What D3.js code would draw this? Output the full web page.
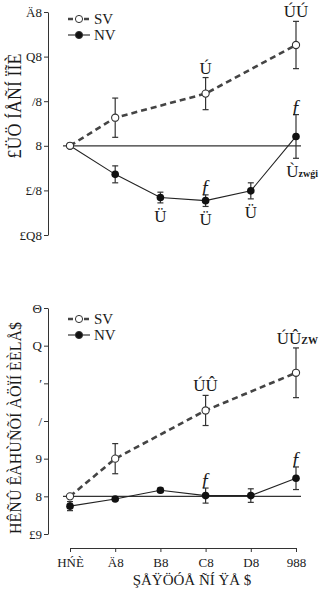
<!DOCTYPE html>
<html>
<head>
<meta charset="utf-8">
<script src="https://cdn.jsdelivr.net/npm/d3@7"></script>
<style>
body{margin:0;background:#fff}
text{font-family:"Liberation Serif",serif;fill:#1a1a1a}
</style>
</head>
<body>
<svg id="chart" width="320" height="590"></svg>
<script>
// doses (x categories)
var doses = [0, 20, 40, 60, 80, 100];
var xTickLabels = ["HŃÈ", "Ä8", "B8", "C8", "D8", "988"];
var xTitle = "ŞÅŸÖÓÅ ÑÍ ŸÅ    $";

// top panel
var topTicks = [30, 20, 10, 0, -10, -20];
var topTickLabels = ["Ä8", "Q8", "/8", "8", "£/8", "£Q8"];
var topTitle = "£ÜÖ    ÍÅÑÍ ÏĨÈ";
var topSvDose = [0, 20, 60, 100];
var topSv = [0, 6.3, 11.7, 22.6];
var topSvErr = [0, 4.4, 3.6, 5.3];
var topSvMarks = ["", "", "Ú", "ÚÚ"];
var topSvSuffix = ["", "", "", ""];
var topNv = [0, -6.4, -11.6, -12.3, -10.1, 2.1];
var topNvErr = [0, 1.9, 1.2, 1.3, 1.8, 4.9];
var topNvAbove = ["", "", "", "ƒ", "", "ƒ"];
var topNvBelow = ["", "", "Ü", "Ü", "Ü", "Ù"];
var topNvBelowSuffix = ["", "", "", "", "", "zwǵi"];

// bottom panel
var botTicks = [25, 20, 15, 10, 5, 0, -5];
var botTickLabels = ["Θ", "Q", "ʹ", "/", "9", "8", "£9"];
var botTitle = "HÊÑÛ ÊÀHÙÑÕÍ ÀÖÏÍ    ÈÈLÅ$";
var botSvDose = [0, 20, 60, 100];
var botSv = [0, 5.0, 11.4, 16.4];
var botSvErr = [0, 2.0, 2.0, 3.3];
var botSvMarks = ["", "", "ÚÛ", "ÚÛ"];
var botSvSuffix = ["", "", "", "ZW"];
var botNv = [-1.3, -0.35, 0.8, 0.1, 0.1, 2.4];
var botNvErr = [0.6, 0.2, 0.3, 1.0, 0.9, 1.5];
var botNvAbove = ["", "", "", "ƒ", "", "ƒ"];

var legendNames = ["SV", "NV"];

var svg = d3.select("#chart");
var x = d3.scalePoint().domain(doses).range([70, 296]);

// a mark centred on its point, or (with a suffix) pushed against the right edge
function markText(sel, size) {
  sel.attr("text-anchor", function (d) { return d.s ? "end" : "middle"; })
    .attr("x", function (d) { return d.s ? 318 : x(d.d); })
    .style("font-size", size);
  sel.append("tspan").text(function (d) { return d.t; });
  sel.filter(function (d) { return d.s; }).append("tspan")
    .style("font-size", "10px").style("font-weight", "bold").text(function (d) { return d.s; });
}

function panel(cfg) {
  var g = svg.append("g");
  var y = d3.scaleLinear().domain(cfg.domain).range(cfg.range);

  // y axis
  var ya = g.append("g").attr("transform", "translate(48,0)")
    .call(d3.axisLeft(y).tickValues(cfg.ticks).tickSize(4).tickSizeOuter(0)
      .tickFormat(function (d, i) { return cfg.tickLabels[i]; }));
  ya.selectAll("text").style("font-family", "Liberation Serif").style("font-size", "13px").attr("x", -6);
  ya.select(".domain").attr("stroke", "#333");
  ya.selectAll(".tick line").attr("stroke", "#333");

  // y title
  g.append("text")
    .attr("transform", "translate(21," + cfg.titleY + ") rotate(-90)")
    .attr("text-anchor", "middle").style("font-size", cfg.titleSize)
    .text(cfg.title);

  // zero reference line
  g.append("line")
    .attr("x1", x(0) - 7).attr("x2", x(100) + 5)
    .attr("y1", y(0)).attr("y2", y(0))
    .attr("stroke", "#333").attr("stroke-width", 1.2);

  var sv = cfg.svDose.map(function (d, i) {
    return {d: d, v: cfg.sv[i], e: cfg.svErr[i], t: cfg.svMarks[i], s: cfg.svSuffix[i]};
  });
  var nv = doses.map(function (d, i) {
    return {d: d, v: cfg.nv[i], e: cfg.nvErr[i], a: cfg.nvAbove[i],
      b: cfg.nvBelow ? cfg.nvBelow[i] : "", bs: cfg.nvBelowSuffix ? cfg.nvBelowSuffix[i] : ""};
  });

  function errBars(data) {
    var eb = g.append("g").selectAll("g").data(data.filter(function (d) { return d.e > 0; })).enter().append("g");
    eb.append("line").attr("x1", function (d) { return x(d.d); }).attr("x2", function (d) { return x(d.d); })
      .attr("y1", function (d) { return y(d.v + d.e); }).attr("y2", function (d) { return y(d.v - d.e); });
    eb.append("line").attr("x1", function (d) { return x(d.d) - 3; }).attr("x2", function (d) { return x(d.d) + 3; })
      .attr("y1", function (d) { return y(d.v + d.e); }).attr("y2", function (d) { return y(d.v + d.e); });
    eb.append("line").attr("x1", function (d) { return x(d.d) - 3; }).attr("x2", function (d) { return x(d.d) + 3; })
      .attr("y1", function (d) { return y(d.v - d.e); }).attr("y2", function (d) { return y(d.v - d.e); });
    eb.selectAll("line").attr("stroke", "#333").attr("stroke-width", 1.2);
  }
  errBars(nv);
  errBars(sv);

  var line = d3.line().x(function (d) { return x(d.d); }).y(function (d) { return y(d.v); });
  g.append("path").datum(nv).attr("d", line).attr("fill", "none").attr("stroke", "#222").attr("stroke-width", 1.1);
  g.append("path").datum(sv).attr("d", line).attr("fill", "none").attr("stroke", "#444")
    .attr("stroke-width", 2.6).attr("stroke-dasharray", "6,4");

  g.append("g").selectAll("circle").data(nv).enter().append("circle")
    .attr("cx", function (d) { return x(d.d); }).attr("cy", function (d) { return y(d.v); })
    .attr("r", 3.8).attr("fill", "#111");
  g.append("g").selectAll("circle").data(sv).enter().append("circle")
    .attr("cx", function (d) { return x(d.d); }).attr("cy", function (d) { return y(d.v); })
    .attr("r", 3.6).attr("fill", "#fff").attr("stroke", "#333").attr("stroke-width", 1.1);

  // significance marks
  g.append("g").selectAll("text").data(sv.filter(function (d) { return d.t; })).enter().append("text")
    .attr("y", function (d) { return y(d.v + d.e) - 4; })
    .call(markText, "17px");
  g.append("g").selectAll("text").data(nv.filter(function (d) { return d.a; })).enter().append("text")
    .attr("x", function (d) { return x(d.d); }).attr("y", function (d) { return y(d.v + d.e) - 2; })
    .attr("text-anchor", "middle").style("font-size", "19px").style("font-style", "italic")
    .text(function (d) { return d.a; });
  g.append("g").selectAll("text")
    .data(nv.filter(function (d) { return d.b; }).map(function (d) { return {d: d.d, t: d.b, s: d.bs, v: d.v, e: d.e}; }))
    .enter().append("text")
    .attr("y", function (d) { return y(d.v - d.e) + 19; })
    .call(markText, "17px");

  // legend
  var lg = g.append("g").attr("transform", "translate(68," + cfg.legendY + ")");
  legendNames.forEach(function (name, i) {
    var row = lg.append("g").attr("transform", "translate(0," + i * 16 + ")");
    row.append("line").attr("x1", 0).attr("x2", 22).attr("y1", 0).attr("y2", 0)
      .attr("stroke", i === 0 ? "#444" : "#222").attr("stroke-width", i === 0 ? 2.4 : 1.1)
      .attr("stroke-dasharray", i === 0 ? "5,3" : null);
    row.append("circle").attr("cx", 11).attr("cy", 0).attr("r", 3.6)
      .attr("fill", i === 0 ? "#fff" : "#111").attr("stroke", "#333");
    row.append("text").attr("x", 26).attr("y", 5).style("font-size", "15px").text(name);
  });
}

panel({
  domain: [-20, 30], range: [235, 12], ticks: topTicks, tickLabels: topTickLabels,
  title: topTitle, titleY: 106, titleSize: "18px", legendY: 19,
  svDose: topSvDose, sv: topSv, svErr: topSvErr, svMarks: topSvMarks, svSuffix: topSvSuffix,
  nv: topNv, nvErr: topNvErr, nvAbove: topNvAbove, nvBelow: topNvBelow, nvBelowSuffix: topNvBelowSuffix
});

panel({
  domain: [-5, 25], range: [534, 308], ticks: botTicks, tickLabels: botTickLabels,
  title: botTitle, titleY: 428, titleSize: "16px", legendY: 319,
  svDose: botSvDose, sv: botSv, svErr: botSvErr, svMarks: botSvMarks, svSuffix: botSvSuffix,
  nv: botNv, nvErr: botNvErr, nvAbove: botNvAbove, nvBelow: null, nvBelowSuffix: null
});

// x axis (bottom panel)
var xa = svg.append("g").attr("transform", "translate(0,548)")
  .call(d3.axisBottom(x).tickSize(4).tickSizeOuter(0)
    .tickFormat(function (d, i) { return xTickLabels[i]; }));
xa.selectAll("text").style("font-family", "Liberation Serif").style("font-size", "13px").attr("y", 10);
xa.select(".domain").attr("stroke", "#333");
xa.selectAll(".tick line").attr("stroke", "#333");

svg.append("text").attr("x", 192).attr("y", 585).attr("text-anchor", "middle")
  .style("font-size", "15px").text(xTitle);
</script>
</body>
</html>
